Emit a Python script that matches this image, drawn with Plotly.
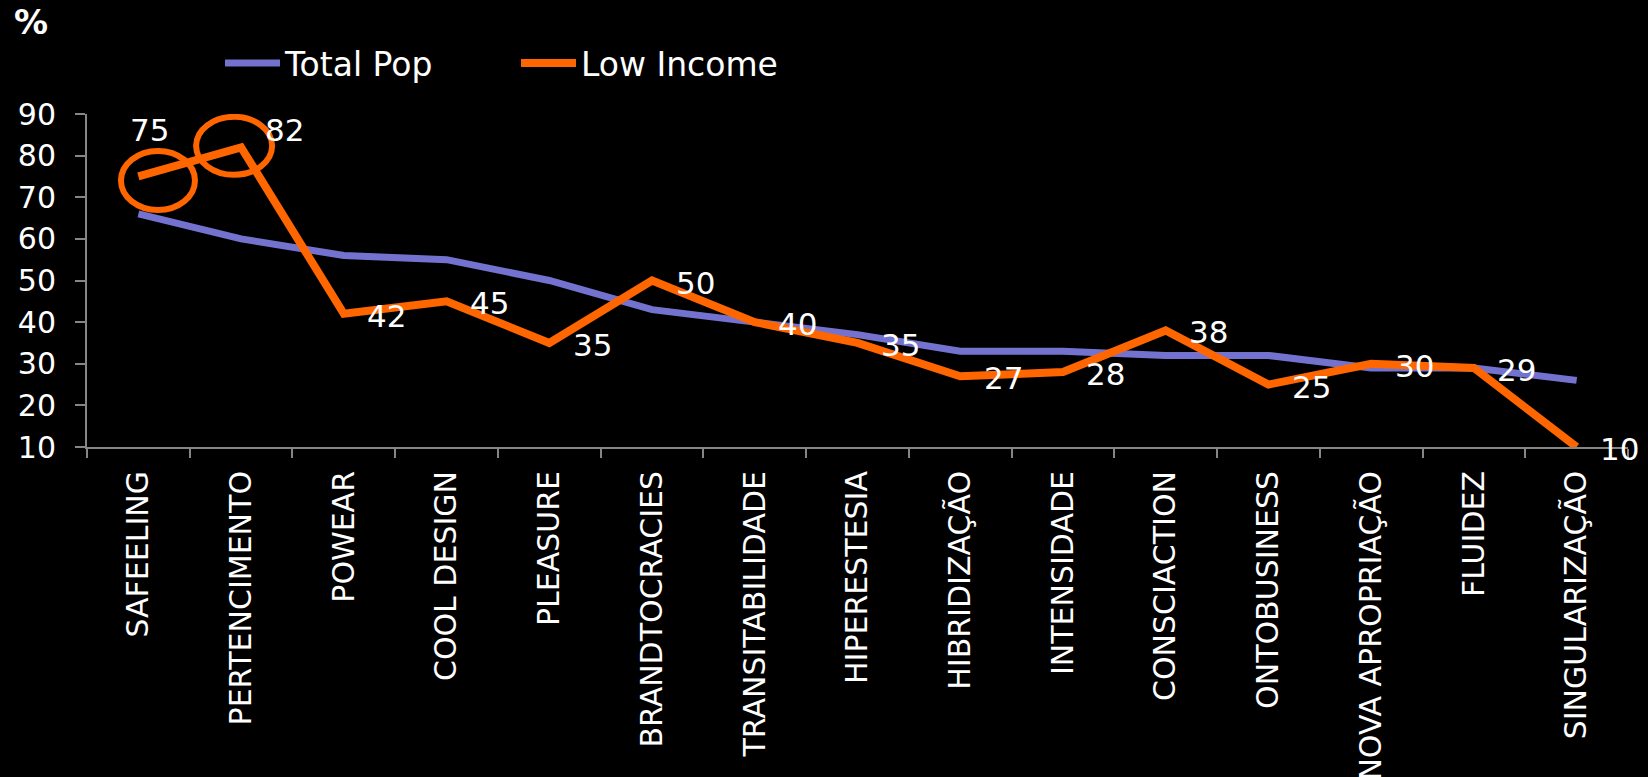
import plotly.graph_objects as go

# Categories along the x axis
categories = [
    "SAFEELING", "PERTENCIMENTO", "POWEAR", "COOL DESIGN", "PLEASURE",
    "BRANDTOCRACIES", "TRANSITABILIDADE", "HIPERESTESIA", "HIBRIDIZAÇÃO",
    "INTENSIDADE", "CONSCIACTION", "ONTOBUSINESS", "NOVA APROPRIAÇÃO",
    "FLUIDEZ", "SINGULARIZAÇÃO",
]

# Series values (%)
total_pop = [66, 60, 56, 55, 50, 43, 40, 37, 33, 33, 32, 32, 29, 29, 26]
low_income = [75, 82, 42, 45, 35, 50, 40, 35, 27, 28, 38, 25, 30, 29, 10]

# Y axis ticks
y_ticks = [10, 20, 30, 40, 50, 60, 70, 80, 90]

BLUE = "#7373CF"
ORANGE = "#FF6600"
GREY = "#868686"
FONT = "DejaVu Sans"

fig = go.Figure()
fig.add_trace(go.Scatter(
    x=categories, y=total_pop, name="Total Pop", mode="lines",
    line=dict(color=BLUE, width=7),
))
fig.add_trace(go.Scatter(
    x=categories, y=low_income, name="Low Income", mode="lines",
    line=dict(color=ORANGE, width=8),
))

# Value labels for the Low Income series (default: to the right of the point)
label_shift = {0: (11, 46), 1: (43, 17)}
for i, (cat, val) in enumerate(zip(categories, low_income)):
    dx, dy = label_shift.get(i, (43, -2))
    fig.add_annotation(
        x=cat, y=val, text=str(val), showarrow=False,
        xshift=dx, yshift=dy, xanchor="center", yanchor="middle",
        font=dict(family=FONT, size=31, color="white"),
    )

# Highlight rings around the two top Low Income points
rings = [(0, 19.6, -4, 37, 29.5), (1, -7, 1.5, 38, 29)]
for idx, cx, cy, rx, ry in rings:
    fig.add_shape(
        type="circle", xref="x", yref="y",
        xsizemode="pixel", ysizemode="pixel",
        xanchor=idx, yanchor=low_income[idx],
        x0=cx - rx, x1=cx + rx, y0=cy - ry, y1=cy + ry,
        line=dict(color=ORANGE, width=6),
    )

fig.update_layout(
    width=1648, height=777,
    paper_bgcolor="black", plot_bgcolor="black",
    margin=dict(l=87, r=20, t=114, b=330),
    font=dict(family=FONT, color="white"),
    title=dict(
        text="<b>%</b>", x=14 / 1648, xanchor="left", xref="container",
        y=1 - 22 / 777, yanchor="middle", yref="container",
        font=dict(family=FONT, size=34, color="white"),
    ),
    legend=dict(
        orientation="h", xref="container", yref="container",
        x=220 / 1648, xanchor="left", y=1 - 63 / 777, yanchor="middle",
        font=dict(family=FONT, size=33, color="white"),
        itemwidth=55, entrywidth=226, bgcolor="rgba(0,0,0,0)",
    ),
    showlegend=True,
)

fig.update_xaxes(
    type="category", tickson="boundaries", range=[-0.5, len(categories) - 0.5],
    autorange=False, automargin=False,
    showline=True, linecolor=GREY, linewidth=2,
    ticks="outside", ticklen=9, tickwidth=2, tickcolor=GREY,
    tickangle=-90, tickfont=dict(family=FONT, size=30, color="white"),
    ticklabelstandoff=10,
    showgrid=False, zeroline=False,
)
fig.update_yaxes(
    range=[10, 90], tickvals=y_ticks, autorange=False, automargin=False,
    showline=True, linecolor=GREY, linewidth=2,
    ticks="outside", ticklen=10, tickwidth=2, tickcolor=GREY,
    tickfont=dict(family=FONT, size=30, color="white"),
    ticklabelstandoff=13,
    showgrid=False, zeroline=False,
)

fig.write_html("out.html")
